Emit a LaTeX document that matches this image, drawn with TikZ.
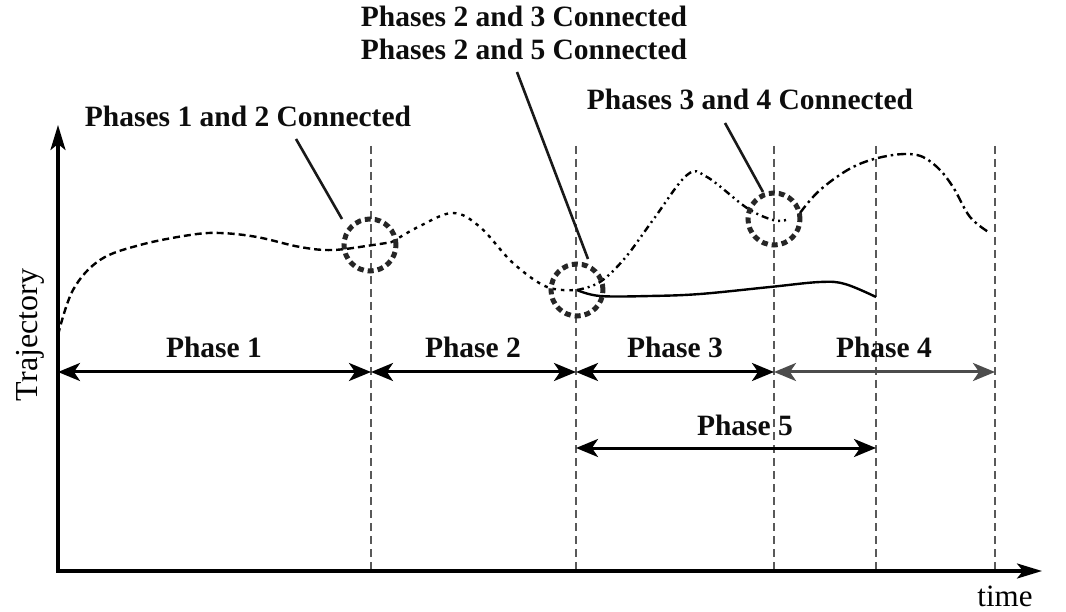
\documentclass[tikz,border=0pt]{standalone}
\usepackage{fontspec}
\setmainfont{Liberation Serif}
\usetikzlibrary{arrows.meta}
\tikzset{
  axistip/.tip={Stealth[length=25pt,width=15pt,inset=6pt]},
  phasetip/.tip={Stealth[length=22pt,width=18pt,inset=6pt]},
  phasearrow/.style={line width=3pt, phasetip-phasetip},
  guide/.style={line width=1.2pt, draw=black!65, dash pattern=on 8pt off 5pt},
  ring/.style={circle, draw=black!85, line width=5pt, dash pattern=on 6pt off 4pt, minimum size=52pt, inner sep=0pt},
  leader/.style={line width=2.6pt, draw=black!90},
  lbl/.style={font=\fontsize{29.5}{33}\selectfont\bfseries, text=black!95, inner sep=0pt, anchor=base},
  curve/.style={line width=2.4pt},
}
\begin{document}
\begin{tikzpicture}[x=1pt,y=-1pt]
\useasboundingbox (0,0) rectangle (1066,612);
% guide lines
\foreach \xx/\nm in {371/g1,576/g2,774/g3,876/g4,995/g5}{
  \coordinate (\nm top) at (\xx,146);
  \coordinate (\nm bot) at (\xx,571);
  \draw[guide] (\nm top) -- (\nm bot);
}
% axes
\coordinate (ytip) at (58,125);
\coordinate (origin) at (58,571);
\coordinate (xtip) at (1042,571);
\draw[line width=3.2pt, axistip-axistip] (ytip) -- (origin) -- (xtip);
\node[font=\fontsize{31}{31}\selectfont, anchor=base, inner sep=0pt] (timelbl) at (1005,606) {time};
\node[font=\fontsize{32}{32}\selectfont, rotate=90, inner sep=0pt] (trajlbl) at (30,335) {Trajectory};
% phase arrows
\coordinate (p0) at (58,372);
\coordinate (p1) at (371,372);
\coordinate (p2) at (576,372);
\coordinate (p3) at (774,372);
\coordinate (p4) at (995,372);
\coordinate (q0) at (576,448);
\coordinate (q1) at (876,448);
\draw[phasearrow] (p0) -- (p1);
\draw[phasearrow] (p1) -- (p2);
\draw[phasearrow] (p2) -- (p3);
\draw[phasearrow, draw=black!70, color=black!70] (p3) -- (p4);
\draw[phasearrow] (q0) -- (q1);
\node[lbl] (ph1) at (214,358) {Phase 1};
\node[lbl] (ph2) at (473,358) {Phase 2};
\node[lbl] (ph3) at (675,358) {Phase 3};
\node[lbl] (ph4) at (884,358) {Phase 4};
\node[lbl] (ph5) at (745,435) {Phase 5};
% curves
\draw[curve, dash pattern=on 7pt off 4pt] plot[smooth, tension=0.6] coordinates {(58,335) (73,290) (100,260) (140,245) (190,235) (220,233) (257,237) (300,247) (333,250) (373,245) (392,242)};
\draw[curve, dash pattern=on 3.5pt off 5pt] plot[smooth, tension=0.6] coordinates {(392,242) (420,226) (453,213) (480,227) (513,263) (547,287) (577,290)};
\draw[curve, dash pattern=on 7pt off 4pt on 2pt off 4pt on 2pt off 4pt] plot[smooth, tension=0.6] coordinates {(577,290) (600,282) (625,258) (653,220) (687,175) (707,177) (747,208) (773,220) (786,220)};
\draw[curve, dash pattern=on 9pt off 4pt on 2.5pt off 4pt] plot[smooth, tension=0.6] coordinates {(800,213) (820,190) (853,167) (887,156) (917,155) (937,167) (953,187) (970,217) (990,233)};
\draw[curve] plot[smooth, tension=0.6] coordinates {(577,290) (600,296) (650,296) (700,294) (770,287) (820,282) (845,284) (876,297)};
% rings
\node[ring] (r1) at (370,245) {};
\node[ring] (r2) at (577,290) {};
\node[ring] (r3) at (774,219) {};
% labels and leaders
\node[lbl] (c12) at (248,127) {Phases 1 and 2 Connected};
\node[lbl, align=center, anchor=north] (c23) at (524,6) {Phases 2 and 3 Connected\\Phases 2 and 5 Connected};
\node[lbl] (c34) at (750,110) {Phases 3 and 4 Connected};
\coordinate (a1) at (296,139);
\coordinate (b1) at (342,219);
\coordinate (a2) at (517,72);
\coordinate (b2) at (588,259);
\coordinate (a3) at (725,123);
\coordinate (b3) at (763,192);
\draw[leader] (a1) -- (b1);
\draw[leader] (a2) -- (b2);
\draw[leader] (a3) -- (b3);
\end{tikzpicture}
\end{document}
